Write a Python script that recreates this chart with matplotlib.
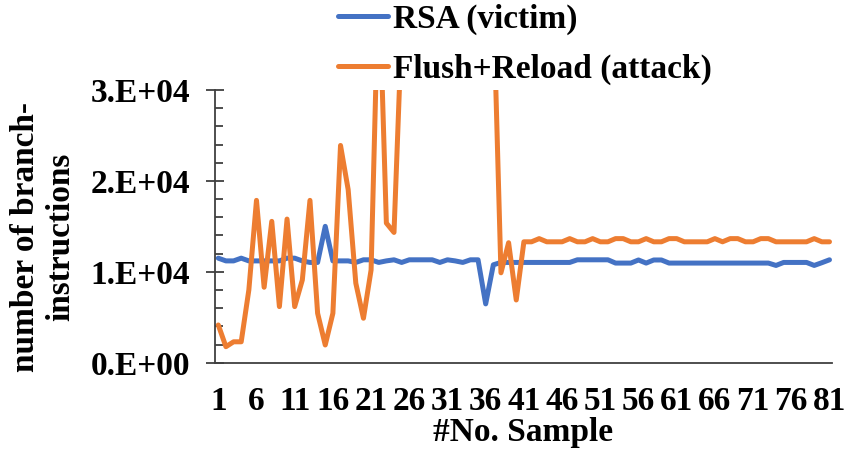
import numpy as np
import matplotlib
matplotlib.use("Agg")
import matplotlib.pyplot as plt
from matplotlib.ticker import MultipleLocator, FuncFormatter

# Branch-instruction counts per sample
samples = np.arange(1, 82)

rsa_victim = [
    11500, 11200, 11200, 11500, 11200, 11200, 11200, 11200, 11200, 11500,
    11500, 11200, 11030, 11030, 15000, 11200, 11200, 11200, 11030, 11320,
    11320, 11030, 11200, 11320, 11030, 11320, 11320, 11320, 11320, 11030,
    11320, 11200, 11030, 11320, 11320, 6470, 10770, 11030, 11030, 11030,
    11030, 11030, 11030, 11030, 11030, 11030, 11030, 11320, 11320, 11320,
    11320, 11320, 10960, 10960, 10960, 11300, 10960, 11300, 11300, 10960,
    10960, 10960, 10960, 10960, 10960, 10960, 10960, 10960, 10960, 10960,
    10960, 10960, 10960, 10700, 11030, 11030, 11030, 11030, 10700, 11000,
    11320,
]

flush_reload = [
    4150, 1760, 2300, 2300, 8000, 17860, 8300, 15550, 6170, 15800,
    6170, 9100, 17860, 5440, 1950, 5440, 23900, 19040, 8750, 4890,
    10200, 43000, 15360, 14330, 36700, 48000, 52000, 47000, 55000, 50000,
    46000, 53000, 49000, 51000, 47000, 45000, 40000, 9890, 13200, 6900,
    13300, 13300, 13650, 13300, 13300, 13300, 13650, 13300, 13300, 13650,
    13300, 13300, 13650, 13650, 13300, 13300, 13650, 13300, 13300, 13650,
    13650, 13300, 13300, 13300, 13300, 13650, 13300, 13650, 13650, 13300,
    13300, 13650, 13650, 13300, 13300, 13300, 13300, 13300, 13650, 13300,
    13300,
]

x_tick_labels = [str(v) for v in range(1, 82, 5)]

plt.rcParams["font.family"] = ["Liberation Serif", "DejaVu Serif"]
plt.rcParams["font.weight"] = "bold"

fig = plt.figure(figsize=(8.49, 4.53), dpi=100)
ax = fig.add_axes([215 / 849, 90.3 / 453, 616.7 / 849, 272.7 / 453])

ax.plot(samples, rsa_victim, color="#4472C4", lw=3.6, label="RSA (victim)",
        solid_joinstyle="round", solid_capstyle="round")
ax.plot(samples, flush_reload, color="#ED7D31", lw=3.6, label="Flush+Reload (attack)",
        solid_joinstyle="round", solid_capstyle="round")

ax.set_xlim(0.57, 81.29)
ax.set_ylim(0, 30000)


def excel_sci(v, pos):
    # 10000 -> "1.E+04", 0 -> "0.E+00"
    exp = int(np.floor(np.log10(v))) if v > 0 else 0
    return "{:.0f}.E+{:02d}".format(v / 10 ** exp, exp)


# y axis: crossing major ticks, inside minor ticks
ax.yaxis.set_major_locator(MultipleLocator(10000))
ax.yaxis.set_minor_locator(MultipleLocator(2000))
ax.yaxis.set_major_formatter(FuncFormatter(excel_sci))
ax.tick_params(axis="y", which="major", direction="inout", length=13.5, width=1.3,
               labelsize=24, pad=11, color="#404040")
ax.tick_params(axis="y", which="minor", direction="in", length=5.8, width=1.3,
               color="#404040")

ax.set_xticks(range(1, 82, 5))
ax.set_xticklabels(x_tick_labels)
ax.tick_params(axis="x", length=0, labelsize=24, pad=17)

for side in ("top", "right"):
    ax.spines[side].set_visible(False)
for side in ("left", "bottom"):
    ax.spines[side].set_linewidth(1.3)
    ax.spines[side].set_color("#404040")

fig.text(43 / 849, 1 - 237 / 453, "number of branch-\ninstructions", rotation=90,
         ha="center", va="center", multialignment="center", fontsize=24,
         fontweight="bold", linespacing=1.15)
fig.text(523 / 849, 1 - 433 / 453, "#No. Sample", ha="center", va="center",
         fontsize=24, fontweight="bold")

ax.legend(loc="upper left", bbox_to_anchor=(338 / 849, 1 - 4 / 453),
          bbox_transform=fig.transFigure, frameon=False, fontsize=24,
          handlelength=1.5, handletextpad=0.15, labelspacing=0.55,
          borderpad=0, borderaxespad=0)

fig.savefig("out.png", dpi=100)
